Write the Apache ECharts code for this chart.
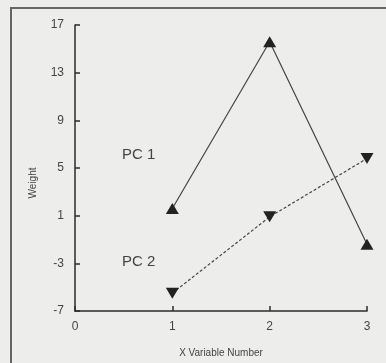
<!DOCTYPE html>
<html>
<head>
<meta charset="utf-8">
<style>
  html, body { margin: 0; padding: 0; background: #ededeb; }
  #chart { width: 386px; height: 363px; }
</style>
<script src="https://cdn.jsdelivr.net/npm/echarts@6/dist/echarts.min.js"></script>
</head>
<body>
<div id="chart"></div>
<script>
// x variable numbers and loadings
const xVars = [1, 2, 3]
const pc1 = [1.6, 15.6, -1.4]
const pc2 = [-5.5, 0.9, 5.8]
const seriesNames = ['PC 1', 'PC 2']

const ink = '#2b2b2b'
const font = 'Liberation Sans, Arial, sans-serif'

const chart = echarts.init(document.getElementById('chart'))

chart.setOption({
  backgroundColor: '#ededeb',
  animation: false,
  grid: { left: 75, right: 19, top: 25, bottom: 51 },
  xAxis: {
    type: 'value',
    min: 0,
    max: 3,
    interval: 1,
    name: 'X Variable Number',
    nameLocation: 'middle',
    nameGap: 37,
    nameTextStyle: { fontFamily: font, fontSize: 10, color: '#444' },
    axisLine: { onZero: false, lineStyle: { color: ink, width: 1.5 } },
    axisTick: { inside: true, length: 5, lineStyle: { color: ink, width: 1.5 } },
    axisLabel: { margin: 10, fontFamily: font, fontSize: 12, color: '#444' },
    splitLine: { show: false }
  },
  yAxis: {
    type: 'value',
    min: -7,
    max: 17,
    interval: 4,
    name: 'Weight',
    nameLocation: 'middle',
    nameGap: 37,
    nameTextStyle: { fontFamily: font, fontSize: 10, color: '#444', padding: [0, 30, 0, 0] },
    axisLine: { onZero: false, lineStyle: { color: ink, width: 1.5 } },
    axisTick: { inside: true, length: 5, lineStyle: { color: ink, width: 1.5 } },
    axisLabel: { margin: 11, fontFamily: font, fontSize: 12, color: '#444' },
    splitLine: { show: false }
  },
  series: [
    {
      name: seriesNames[0],
      type: 'line',
      data: xVars.map((x, i) => [x, pc1[i]]),
      symbol: 'triangle',
      symbolSize: [13, 11],
      itemStyle: { color: '#222' },
      lineStyle: { color: '#444', width: 1.2 }
    },
    {
      name: seriesNames[1],
      type: 'line',
      data: xVars.map((x, i) => [x, pc2[i]]),
      symbol: 'triangle',
      symbolRotate: 180,
      symbolSize: [13, 11],
      itemStyle: { color: '#222' },
      lineStyle: { color: '#444', width: 1.2, type: [3, 2] }
    }
  ],
  graphic: [
    {
      type: 'polyline',
      shape: { points: [[11, 363], [11, 8], [386, 8]] },
      style: { stroke: '#666', lineWidth: 2, fill: null }
    },
    {
      type: 'text',
      left: 122,
      top: 147,
      style: { text: seriesNames[0], font: '15px ' + font, fill: '#444' }
    },
    {
      type: 'text',
      left: 122,
      top: 254,
      style: { text: seriesNames[1], font: '15px ' + font, fill: '#444' }
    }
  ]
})
</script>
</body>
</html>
